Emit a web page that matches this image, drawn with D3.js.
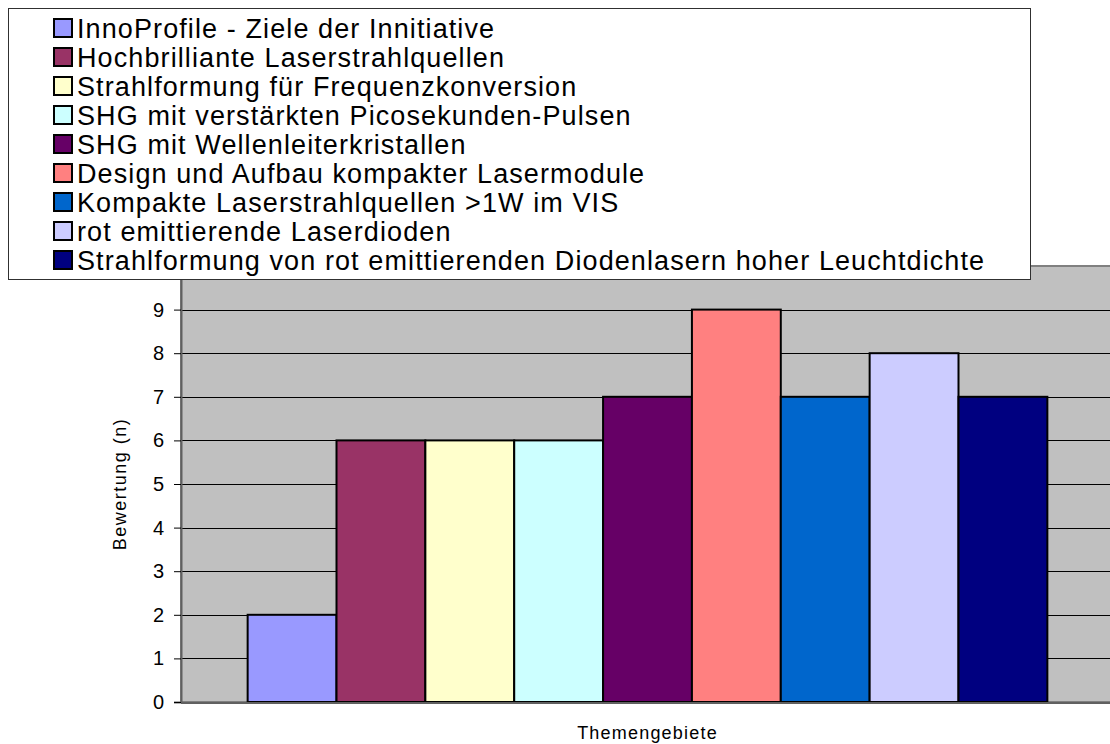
<!DOCTYPE html>
<html><head><meta charset="utf-8">
<script src="https://cdn.jsdelivr.net/npm/d3@7"></script>
<style>body{margin:0;background:#fff}svg{display:block;font-family:"Liberation Sans",Arial,sans-serif}</style>
</head><body><svg id="c" width="1110" height="744"></svg>
<script>
const seriesNames = [
  "InnoProfile - Ziele der Innitiative",
  "Hochbrilliante Laserstrahlquellen",
  "Strahlformung für Frequenzkonversion",
  "SHG mit verstärkten Picosekunden-Pulsen",
  "SHG mit Wellenleiterkristallen",
  "Design und Aufbau kompakter Lasermodule",
  "Kompakte Laserstrahlquellen >1W im VIS",
  "rot emittierende Laserdioden",
  "Strahlformung von rot emittierenden Diodenlasern hoher Leuchtdichte"
];
const values = [2, 6, 6, 6, 7, 9, 7, 8, 7];
const colors = ["#9999FF","#993366","#FFFFCC","#CCFFFF","#660066","#FF8080","#0066CC","#CCCCFF","#000080"];
const yTicks = [0,1,2,3,4,5,6,7,8,9];
const yLabel = "Bewertung (n)";
const xLabel = "Themengebiete";

const FONT = "'Liberation Sans', Arial, sans-serif";
const svg = d3.select("#c");
const plot = {left:181, right:1114, top:266, bottom:702};

const x = d3.scaleBand().domain(seriesNames).range([plot.left, plot.right]).paddingInner(0).paddingOuter(0.75);
const y = d3.scaleLinear().domain([0,10]).range([plot.bottom, plot.top]);

// plot background
svg.append("rect").attr("x",plot.left).attr("y",plot.top)
  .attr("width",plot.right-plot.left).attr("height",plot.bottom-plot.top)
  .attr("fill","#C0C0C0").attr("stroke","#808080").attr("stroke-width",2);

// gridlines
svg.append("g").selectAll("line").data(yTicks.filter(d=>d>0)).join("line")
  .attr("x1",plot.left).attr("x2",plot.right)
  .attr("y1",d=>Math.round(y(d))+0.5).attr("y2",d=>Math.round(y(d))+0.5)
  .attr("stroke","#000").attr("stroke-width",1);

// bars
svg.append("g").selectAll("rect").data(values).join("rect")
  .attr("x",(d,i)=>x(seriesNames[i]))
  .attr("y",d=>y(d))
  .attr("width",x.bandwidth())
  .attr("height",d=>y(0)-y(d))
  .attr("fill",(d,i)=>colors[i])
  .attr("stroke","#000").attr("stroke-width",2);

// y axis
const yAxis = d3.axisLeft(y).tickValues(yTicks).tickSize(7).tickPadding(10).tickFormat(d3.format("d"));
const ga = svg.append("g").attr("transform",`translate(${plot.left},0)`).call(yAxis);
ga.select(".domain").attr("stroke","#606060").attr("stroke-width",2);
ga.selectAll(".tick line").attr("stroke","#000");
ga.selectAll(".tick text").attr("font-size",20).attr("fill","#000").attr("font-family",FONT);
// x axis line
svg.append("line").attr("x1",plot.left).attr("x2",plot.right).attr("y1",plot.bottom+1).attr("y2",plot.bottom+1)
  .attr("stroke","#606060").attr("stroke-width",2);

// axis titles
svg.append("text").attr("transform",`translate(126,${(plot.top+plot.bottom)/2}) rotate(-90)`)
  .attr("text-anchor","middle").attr("font-size",18).attr("letter-spacing","1.5px")
  .attr("font-family",FONT).text(yLabel);
svg.append("text").attr("x",(plot.left+plot.right)/2).attr("y",739)
  .attr("text-anchor","middle").attr("font-size",18).attr("letter-spacing","1.2px")
  .attr("font-family",FONT).text(xLabel);

// legend
const lg = svg.append("g");
lg.append("rect").attr("x",8.5).attr("y",8.5).attr("width",1022).attr("height",271)
  .attr("fill","#fff").attr("stroke","#303030").attr("stroke-width",1);
const rowY = d3.scalePoint().domain(seriesNames).range([28, 260]);
const items = lg.selectAll("g.item").data(seriesNames).join("g").attr("class","item")
  .attr("transform",d=>`translate(0,${rowY(d)})`);
items.append("rect").attr("x",54).attr("y",-9).attr("width",18).attr("height",18)
  .attr("fill",(d,i)=>colors[i]).attr("stroke","#000").attr("stroke-width",2);
items.append("text").attr("x",77).attr("y",0).attr("dy","0.36em")
  .attr("font-size",27).attr("letter-spacing","1.1px").attr("font-family",FONT).text(d=>d);
</script></body></html>
